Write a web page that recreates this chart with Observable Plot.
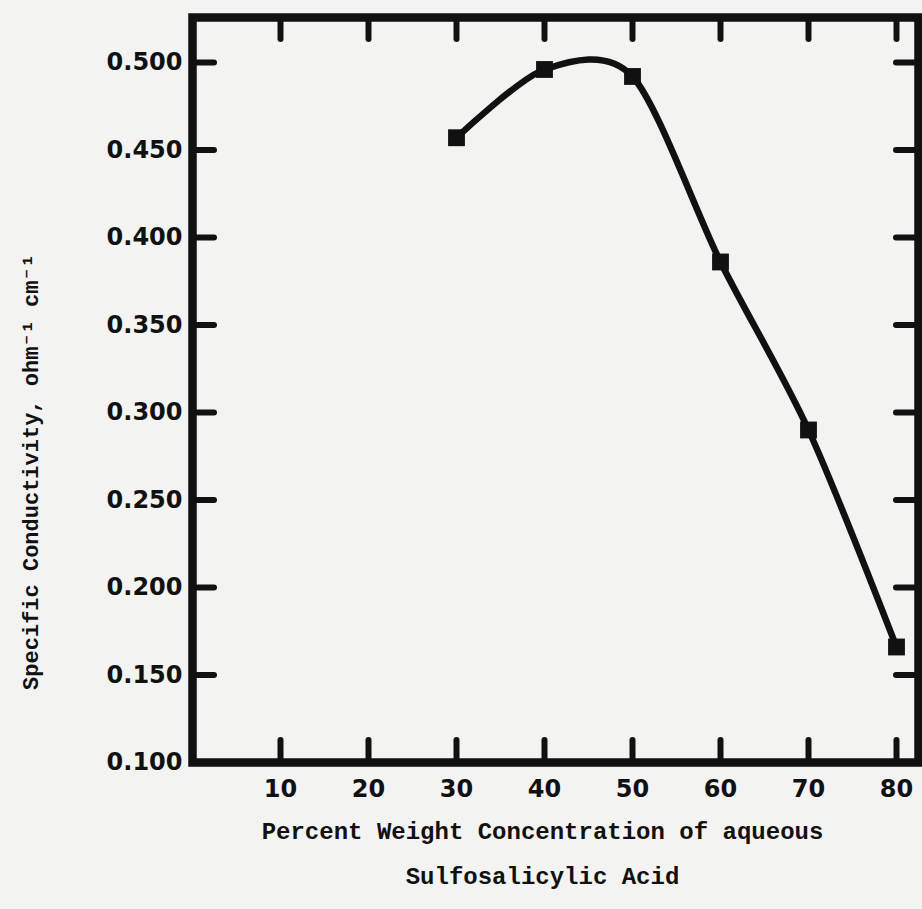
<!DOCTYPE html>
<html>
<head>
<meta charset="utf-8">
<script src="https://cdn.jsdelivr.net/npm/d3@7"></script>
<script src="https://cdn.jsdelivr.net/npm/@observablehq/plot@0.6"></script>
<style>
  html, body { margin: 0; padding: 0; background: #f3f3f1; }
  #chart svg { background: #f3f3f1; display: block; }
</style>
</head>
<body>
<div id="chart"></div>
<script>
// ---- data ----
const concentration = [30, 40, 50, 60, 70, 80];
const conductivity = [0.457, 0.496, 0.492, 0.386, 0.290, 0.166];
const xTicks = [10, 20, 30, 40, 50, 60, 70, 80];
const yTicks = [0.100, 0.150, 0.200, 0.250, 0.300, 0.350, 0.400, 0.450, 0.500];
const xTitle1 = "Percent Weight Concentration of aqueous";
const xTitle2 = "Sulfosalicylic Acid";
const yTitle = "Specific Conductivity, ohm\u207B\u00B9 cm\u207B\u00B9";

const points = concentration.map((c, i) => ({c, k: conductivity[i]}));

const W = 922, H = 909;
const mL = 192, mR = 4, mT = 17, mB = 147;
const innerW = W - mL - mR, innerH = H - mT - mB;
const ink = "#111";
const tickFont = "DejaVu Sans, sans-serif";
const titleFont = "Liberation Mono, monospace";

const chart = Plot.plot({
  width: W,
  height: H,
  marginLeft: mL,
  marginRight: mR,
  marginTop: mT,
  marginBottom: mB,
  style: {background: "#f3f3f1", color: ink},
  x: {domain: [0, 82.5], axis: null},
  y: {domain: [0.1, 0.5257], axis: null},
  marks: [
    // inward ticks, all four sides
    Plot.tickY(yTicks.slice(1), {y: d => d, insetRight: innerW - 22, stroke: ink, strokeWidth: 6, strokeLinecap: "round"}),
    Plot.tickY(yTicks.slice(1), {y: d => d, insetLeft: innerW - 22, stroke: ink, strokeWidth: 6, strokeLinecap: "round"}),
    Plot.tickX(xTicks, {x: d => d, insetTop: innerH - 22, stroke: ink, strokeWidth: 6, strokeLinecap: "round"}),
    Plot.tickX(xTicks, {x: d => d, insetBottom: innerH - 22, stroke: ink, strokeWidth: 6, strokeLinecap: "round"}),
    Plot.frame({stroke: ink, strokeWidth: 8.5}),
    // tick labels
    Plot.axisY({ticks: yTicks, tickFormat: d => d.toFixed(3), tickSize: 0, tickPadding: 10,
      fontFamily: tickFont, fontWeight: "bold", fontSize: 24, label: null, fill: ink}),
    Plot.axisX({ticks: xTicks, tickFormat: d => String(d), tickSize: 0, tickPadding: 17,
      fontFamily: tickFont, fontWeight: "bold", fontSize: 24, label: null, fill: ink}),
    // data
    Plot.line(points, {x: "c", y: "k", curve: "cardinal", tension: 0.15, stroke: ink, strokeWidth: 6.5}),
    Plot.dot(points, {x: "c", y: "k", symbol: "square", r: 9.5, fill: ink, stroke: "none"}),
    // titles
    Plot.text([xTitle1], {frameAnchor: "bottom", dx: -13, dy: 76, fontFamily: titleFont, fontWeight: "bold", fontSize: 24, fill: ink}),
    Plot.text([xTitle2], {frameAnchor: "bottom", dx: -13, dy: 121, fontFamily: titleFont, fontWeight: "bold", fontSize: 24, fill: ink}),
    Plot.text([yTitle], {frameAnchor: "left", textAnchor: "middle", dx: -162, dy: 82, rotate: -90, fontFamily: titleFont, fontWeight: "bold", fontSize: 22, fill: ink})
  ]
});
document.getElementById("chart").appendChild(chart);
</script>
</body>
</html>
